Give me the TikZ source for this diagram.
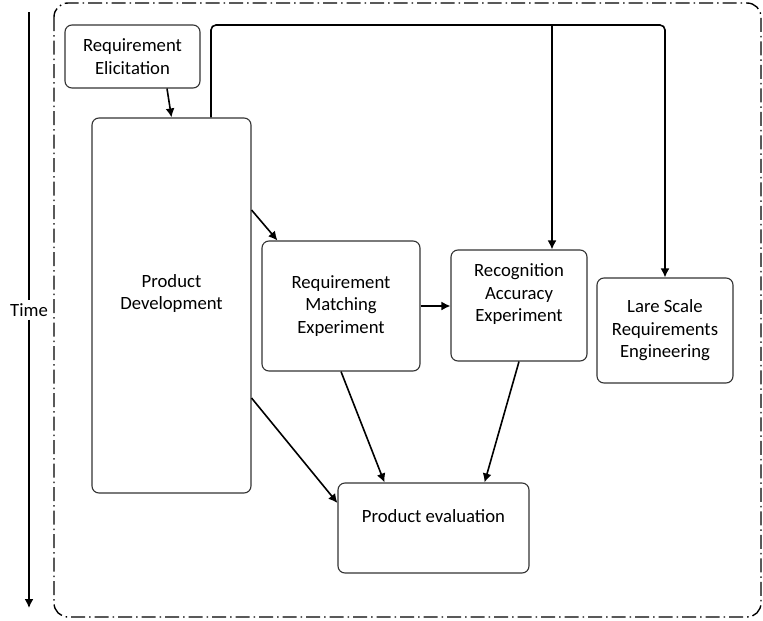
\documentclass[tikz,border=0pt]{standalone}
\usepackage{fontspec}
\setmainfont{Carlito}
\usetikzlibrary{arrows.meta,positioning}
\tikzset{
  block/.style={draw=black!80, line width=1.1pt, rounded corners=7pt, align=center,
    inner sep=0pt, font=\fontsize{18.7}{22.5}\selectfont},
  txt/.style={align=center, inner sep=0pt, font=\fontsize{18.7}{22.5}\selectfont},
  flow/.style={->, line width=1.6pt},
}

\begin{document}
\begin{tikzpicture}[x=1pt,y=-1pt,>={Latex[length=9pt,width=9pt]}]
  \useasboundingbox (0,0) rectangle (763,621);
  % frame
  \draw[line width=1.4pt, rounded corners=14pt,
        dash pattern=on 14pt off 4pt on 1.5pt off 4pt] (54,3) rectangle (761,617);

  \node[block, minimum width=135, minimum height=63] (re) at (132.5,56.5) {Requirement\\Elicitation};
  \node[block, minimum width=159, minimum height=375] (pd) at (171.5,305.5) {};
  \node[txt] (pdlbl) at ([yshift=12]pd.center) {Product\\Development};
  \node[block, minimum width=158, minimum height=130] (rme) at (341,306) {Requirement\\Matching\\Experiment};
  \node[block, minimum width=136, minimum height=111] (rae) at (519,305.5) {};
  \node[txt] (raelbl) at ([yshift=11]rae.center) {Recognition\\Accuracy\\Experiment};
  \node[block, minimum width=136, minimum height=105] (lse) at (665,330.5) {Lare Scale\\Requirements\\Engineering};
  \node[block, minimum width=191, minimum height=90] (pe) at (433.5,528) {};
  \node[txt] (pelbl) at ([yshift=12]pe.center) {Product evaluation};

  % time axis
  \node[txt, fill=white, inner sep=3pt] (time) at (29,310) {Time};
  \coordinate (tstart) at (29,12);
  \coordinate (tend) at (29,608);
  \draw[line width=1.6pt] (tstart) -- (time);
  \draw[flow] (time) -- (tend);

  % feedback bus
  \coordinate (pdout) at ([xshift=39.5]pd.north);
  \coordinate (bus) at (211,25);
  \coordinate (raein) at ([xshift=33]rae.north);
  \draw[flow, rounded corners=5pt] (pdout) -- (bus) -| (lse.north);
  \draw[flow] (raein |- bus) -- (raein);

  \path[flow]
    ([xshift=34.5]re.south) edge (pd.north)
    ([yshift=95.5]pd.east) edge ([xshift=16]rme.north west)
    (rme.east) edge (rae.west |- rme.east)
    (rme.south) edge ([xshift=47]pe.north west)
    (rae.south) edge ([xshift=-45]pe.north east)
    ([yshift=-92.5]pd.east) edge ([yshift=25]pe.west);
\end{tikzpicture}
\end{document}
